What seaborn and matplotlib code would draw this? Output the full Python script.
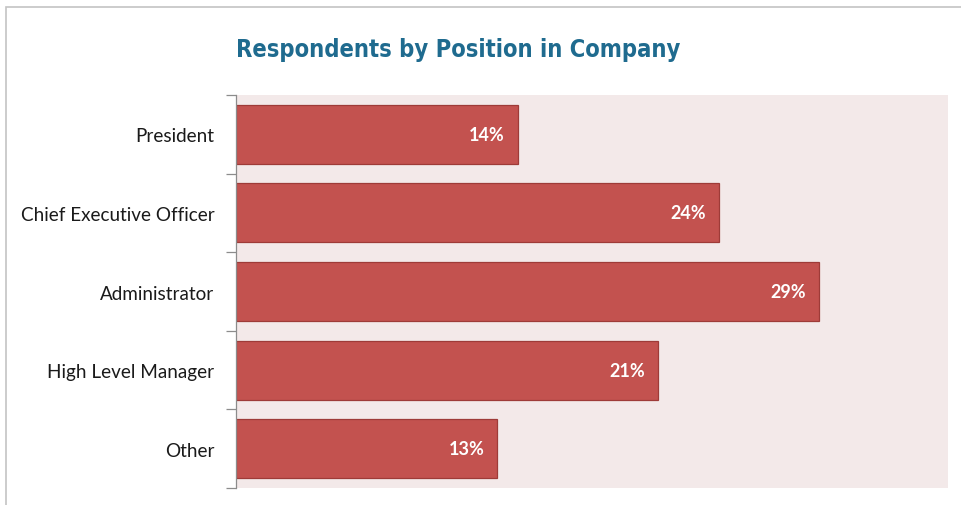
import matplotlib
matplotlib.use("Agg")
import matplotlib.pyplot as plt
from matplotlib.patches import Rectangle
import seaborn as sns
import pandas as pd

positions = ["President", "Chief Executive Officer", "Administrator",
             "High Level Manager", "Other"]
shares = [14, 24, 29, 21, 13]

df = pd.DataFrame({"position": positions, "share": shares})

sns.set_theme(style="white")
plt.rcParams["font.family"] = ["Lato", "DejaVu Sans"]

W, H = 962, 506
fig = plt.figure(figsize=(W / 100, H / 100), dpi=100)

# outer frame of the chart area
fig.patches.append(Rectangle((6 / W, -0.1), 1.2, 1 - 7.5 / H + 0.1,
                             transform=fig.transFigure, fill=False,
                             edgecolor="#C4C4C4", linewidth=1.2))

ax = fig.add_axes([236 / W, 1 - 489 / H, (948 - 236) / W, (489 - 96) / H])
ax.set_facecolor("#F3E9E9")

sns.barplot(data=df, x="share", y="position", orient="h", ax=ax,
            color="#C3524F", saturation=1, width=0.75,
            edgecolor="#9E3B38", linewidth=0.9)

ax.set_xlim(0, 35.4)
ax.set_ylim(4.5, -0.5)
ax.set_xlabel("")
ax.set_ylabel("")
ax.set_xticks([])

for s in ["top", "right", "bottom"]:
    ax.spines[s].set_visible(False)
ax.spines["left"].set_color("#8C8C8C")
ax.spines["left"].set_linewidth(0.9)

# category labels centred on bars, tick marks on band boundaries
ax.set_yticks(range(len(positions)))
ax.set_yticklabels(positions, fontsize=13.6, color="#1A1A1A")
ax.tick_params(axis="y", which="major", length=0, pad=15.5)
ax.set_yticks([i - 0.5 for i in range(len(positions) + 1)], minor=True)
ax.tick_params(axis="y", which="minor", length=7, width=0.9,
               color="#8C8C8C", direction="out", left=True)

for i, v in enumerate(shares):
    ax.text(v - 0.65, i, f"{v}%", ha="right", va="center",
            color="white", fontsize=13, fontweight="bold")

fig.text(236 / W, 1 - 50 / H, "Respondents by Position in Company",
         ha="left", va="center", fontsize=17, fontweight="bold",
         color="#1F6B8F", family=["DejaVu Sans"], fontstretch="condensed")

fig.savefig("out.png", dpi=100, facecolor="white")
